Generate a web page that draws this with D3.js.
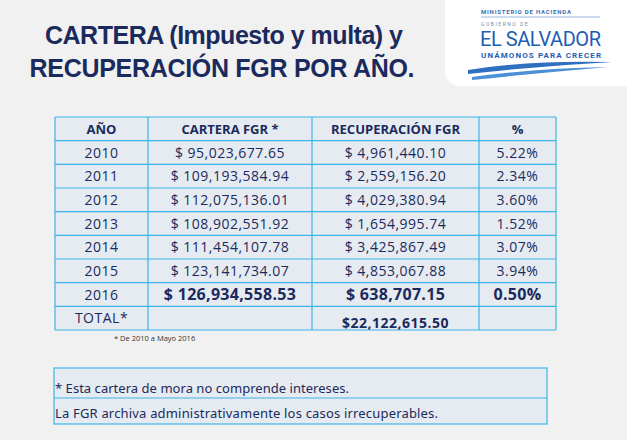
<!DOCTYPE html>
<html><head><meta charset="utf-8">
<script src="https://cdn.jsdelivr.net/npm/d3@7"></script>
<style>body{margin:0;background:#f1f1f1;}svg{display:block;}</style>
</head><body>
<svg id="c" width="627" height="440"></svg>
<script>
// table data
const headers = ["AÑO", "CARTERA FGR *", "RECUPERACIÓN FGR", "%"];
const years = ["2010", "2011", "2012", "2013", "2014", "2015", "2016", "TOTAL*"];
const cartera = ["$ 95,023,677.65", "$ 109,193,584.94", "$ 112,075,136.01", "$ 108,902,551.92",
    "$ 111,454,107.78", "$ 123,141,734.07", "$ 126,934,558.53", ""];
const recuperacion = ["$ 4,961,440.10", "$ 2,559,156.20", "$ 4,029,380.94", "$ 1,654,995.74",
    "$ 3,425,867.49", "$ 4,853,067.88", "$ 638,707.15", "$22,122,615.50"];
const pct = ["5.22%", "2.34%", "3.60%", "1.52%", "3.07%", "3.94%", "0.50%", ""];
const notes = ["* Esta cartera de mora no comprende intereses.",
    "La FGR archiva administrativamente los casos irrecuperables."];

const svg = d3.select("#c");
const navy = "#1b2a5c", line = "#3cb4ea", cell = "#e6eaf1";

// title
svg.append("text").attr("x", 224).attr("y", 44).attr("text-anchor", "middle")
    .attr("font-family", "'Liberation Sans', Arial, sans-serif").attr("font-size", 25).attr("font-weight", "bold")
    .attr("fill", navy).attr("textLength", 358).text("CARTERA (Impuesto y multa) y");
svg.append("text").attr("x", 222).attr("y", 77).attr("text-anchor", "middle")
    .attr("font-family", "'Liberation Sans', Arial, sans-serif").attr("font-size", 25).attr("font-weight", "bold")
    .attr("fill", navy).attr("textLength", 385).text("RECUPERACIÓN FGR POR AÑO.");

// logo box
svg.append("path").attr("d", "M450,0 H627 V86 H462 Q445,86 445,70 V0 Z").attr("fill", "#fff");
const lg = svg.append("g").attr("font-family", "Roboto, sans-serif");
lg.append("text").attr("x", 481).attr("y", 14).attr("font-size", 6).attr("font-weight", "bold")
    .attr("fill", "#3a6fb5").attr("letter-spacing", 0.8).text("MINISTERIO DE HACIENDA");
lg.append("line").attr("x1", 481).attr("x2", 600).attr("y1", 17).attr("y2", 17).attr("stroke", "#9bb8dc");
lg.append("text").attr("x", 481).attr("y", 26).attr("font-size", 5).attr("fill", "#7a8ca8")
    .attr("letter-spacing", 1.5).text("GOBIERNO DE");
lg.append("text").attr("x", 480).attr("y", 46).attr("font-size", 20).attr("fill", "#1e5db3")
    .attr("textLength", 121).text("EL SALVADOR");
lg.append("text").attr("x", 481).attr("y", 58).attr("font-size", 8).attr("font-weight", "bold")
    .attr("fill", "#1e5db3").attr("textLength", 120).text("UNÁMONOS PARA CRECER");
lg.append("path").attr("d", "M468,70 Q530,60 612,62 Q540,66 468,74 Z").attr("fill", "#2f6fc0");
lg.append("path").attr("d", "M472,77 Q540,68 608,67 Q540,73 472,80 Z").attr("fill", "#4b8fd6");

// table scales
const colX = [55, 148, 312, 479, 556];
const y = d3.scaleBand().domain(d3.range(years.length + 1)).range([117, 330]);
const rows = [headers].concat(years.map((d, i) => [d, cartera[i], recuperacion[i], pct[i]]));

const tg = svg.append("g");
tg.append("rect").attr("x", colX[0]).attr("y", y(0)).attr("width", colX[4] - colX[0])
    .attr("height", y.step() * rows.length).attr("fill", cell);

rows.forEach((r, i) => {
    r.forEach((t, j) => {
        const bold = i === 0 || (i === 7 && j > 0) || (i === 8 && j === 2);
        const big = i === 7 && j > 0;
        let tx = (colX[j] + colX[j + 1]) / 2;
        tg.append("text").attr("x", tx).attr("y", y(i) + y.bandwidth() / 2 + (i === 8 && j === 2 ? 10 : 5))
            .attr("text-anchor", "middle").attr("font-family", "'Open Sans', sans-serif")
            .attr("font-size", big ? 16 : (i === 0 ? 13 : 14))
            .attr("letter-spacing", big ? 0.3 : (i === 0 ? 0 : 0.5))
            .attr("font-weight", bold ? "bold" : "normal")
            .attr("fill", navy).text(t);
    });
});
// grid lines
d3.range(rows.length + 1).forEach(i => {
    const yy = 117 + i * y.step();
    tg.append("line").attr("x1", colX[0]).attr("x2", colX[4]).attr("y1", yy).attr("y2", yy)
        .attr("stroke", line).attr("stroke-width", 1.2);
});
colX.forEach(x => tg.append("line").attr("x1", x).attr("x2", x).attr("y1", 117).attr("y2", 330)
    .attr("stroke", line).attr("stroke-width", 1.2));

svg.append("text").attr("x", 114).attr("y", 341).attr("font-family", "'Open Sans', sans-serif")
    .attr("font-size", 7.5).attr("fill", "#333").text("* De 2010 a Mayo 2016");

// notes box
const ny = d3.scaleOrdinal().domain([0, 1]).range([368, 398]);
svg.append("rect").attr("x", 54).attr("y", 368).attr("width", 493).attr("height", 56)
    .attr("fill", cell).attr("stroke", line).attr("stroke-width", 1.2);
svg.append("line").attr("x1", 54).attr("x2", 547).attr("y1", 398).attr("y2", 398)
    .attr("stroke", line).attr("stroke-width", 1.2);
notes.forEach((n, i) => svg.append("text").attr("x", 55).attr("y", ny(i) + (i ? 20 : 25))
    .attr("font-family", "'Noto Sans', sans-serif").attr("font-size", 13).attr("fill", navy)
    .attr("textLength", i ? 383 : 294).text(n));
</script>
</body></html>
